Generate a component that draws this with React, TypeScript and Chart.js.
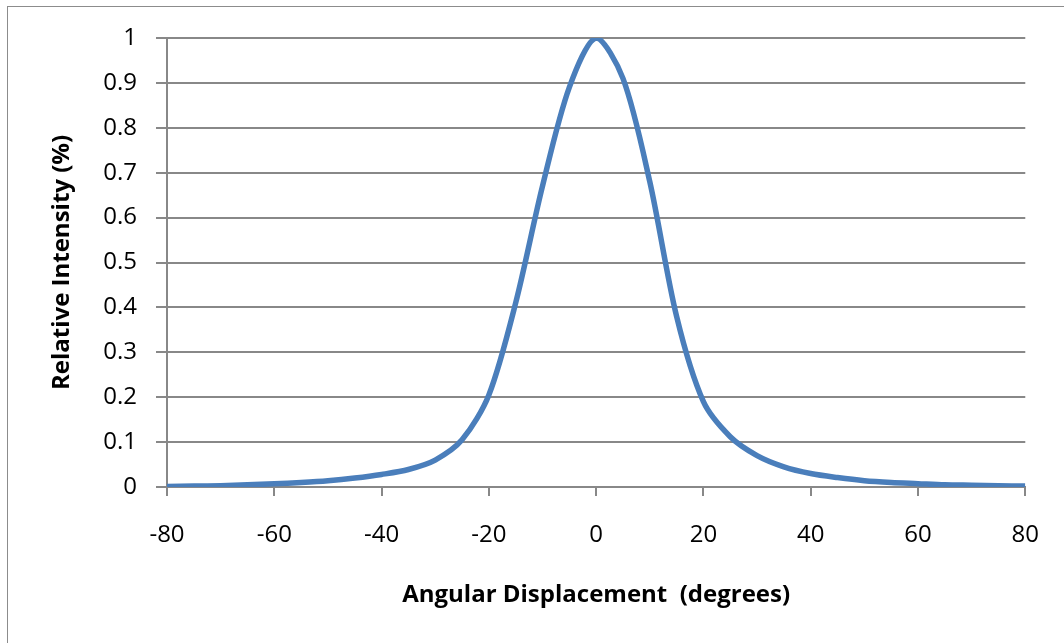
import React, { useEffect, useRef } from "react";
import { Chart, registerables } from "chart.js";

Chart.register(...registerables);

const angles: number[] = [
  -80, -75, -70, -65, -60, -55, -50, -45, -40, -35, -30, -25, -20, -15, -10, -5, 0,
  5, 10, 15, 20, 25, 30, 35, 40, 45, 50, 55, 60, 65, 70, 75, 80,
];
const intensity: number[] = [
  0.001, 0.002, 0.003, 0.005, 0.007, 0.01, 0.014, 0.02, 0.028, 0.039, 0.06, 0.105, 0.205, 0.41, 0.67, 0.89, 1.0,
  0.91, 0.68, 0.38, 0.19, 0.112, 0.07, 0.045, 0.03, 0.021, 0.014, 0.01, 0.0075, 0.005, 0.004, 0.003, 0.002,
];
const xTitle = "Angular Displacement  (degrees)";
const yTitle = "Relative Intensity (%)";

const FONT = "'Open Sans', 'Noto Sans', sans-serif";
const GRID = "#888888";
const FS = 24;

export default function App() {
  const ref = useRef<HTMLCanvasElement | null>(null);

  useEffect(() => {
    if (!ref.current) return;
    const points = angles.map((a, i) => ({ x: a, y: intensity[i] }));
    const chart = new Chart(ref.current, {
      type: "line",
      data: {
        datasets: [
          {
            data: points,
            borderColor: "#4a7ebb",
            borderWidth: 5.5,
            pointRadius: 0,
            tension: 0.3,
            fill: false,
          },
        ],
      },
      options: {
        animation: false,
        responsive: false,
        devicePixelRatio: 1,
        layout: { padding: { left: 0, top: 38, right: 36.5, bottom: 0 } },
        plugins: { legend: { display: false }, tooltip: { enabled: false } },
        scales: {
          x: {
            type: "linear",
            min: -80,
            max: 80,
            afterFit: (s: any) => {
              s.height = 156;
            },
            ticks: {
              stepSize: 20,
              color: "#000",
              font: { family: FONT, size: FS },
              padding: 25,
              maxRotation: 0,
            },
            grid: {
              drawOnChartArea: false,
              drawTicks: true,
              tickLength: 9,
              color: GRID,
              lineWidth: 2,
            },
            border: { color: GRID, width: 2 },
            title: {
              display: true,
              text: xTitle,
              color: "#000",
              font: { family: FONT, size: FS, weight: "bold" },
              padding: { top: 0, bottom: 33 },
            },
          },
          y: {
            min: 0,
            max: 1,
            afterFit: (s: any) => {
              s.width = 167;
            },
            ticks: {
              stepSize: 0.1,
              color: "#000",
              font: { family: FONT, size: FS },
              padding: 19,
              callback: (v: any) => String(Math.round(Number(v) * 10) / 10),
            },
            grid: {
              drawOnChartArea: true,
              drawTicks: true,
              tickLength: 11,
              color: GRID,
              lineWidth: 2,
            },
            border: { color: GRID, width: 2 },
            title: {
              display: true,
              text: yTitle,
              color: "#000",
              font: { family: FONT, size: FS, weight: "bold" },
              padding: { top: 48, bottom: 0 },
            },
          },
        },
      },
    });
    return () => chart.destroy();
  }, []);

  return (
    <div
      style={{
        position: "fixed",
        left: 0,
        top: 0,
        width: 1064,
        height: 643,
        overflow: "hidden",
        background: "#fff",
      }}
    >
      <div
        style={{
          position: "absolute",
          left: 7,
          top: 6,
          width: 1100,
          height: 700,
          borderLeft: "1.5px solid #8c8c8c",
          borderTop: "1.5px solid #8c8c8c",
        }}
      />
      <canvas
        ref={ref}
        width={1064}
        height={643}
        style={{ position: "absolute", left: 0, top: 0, width: 1064, height: 643 }}
      />
    </div>
  );
}
